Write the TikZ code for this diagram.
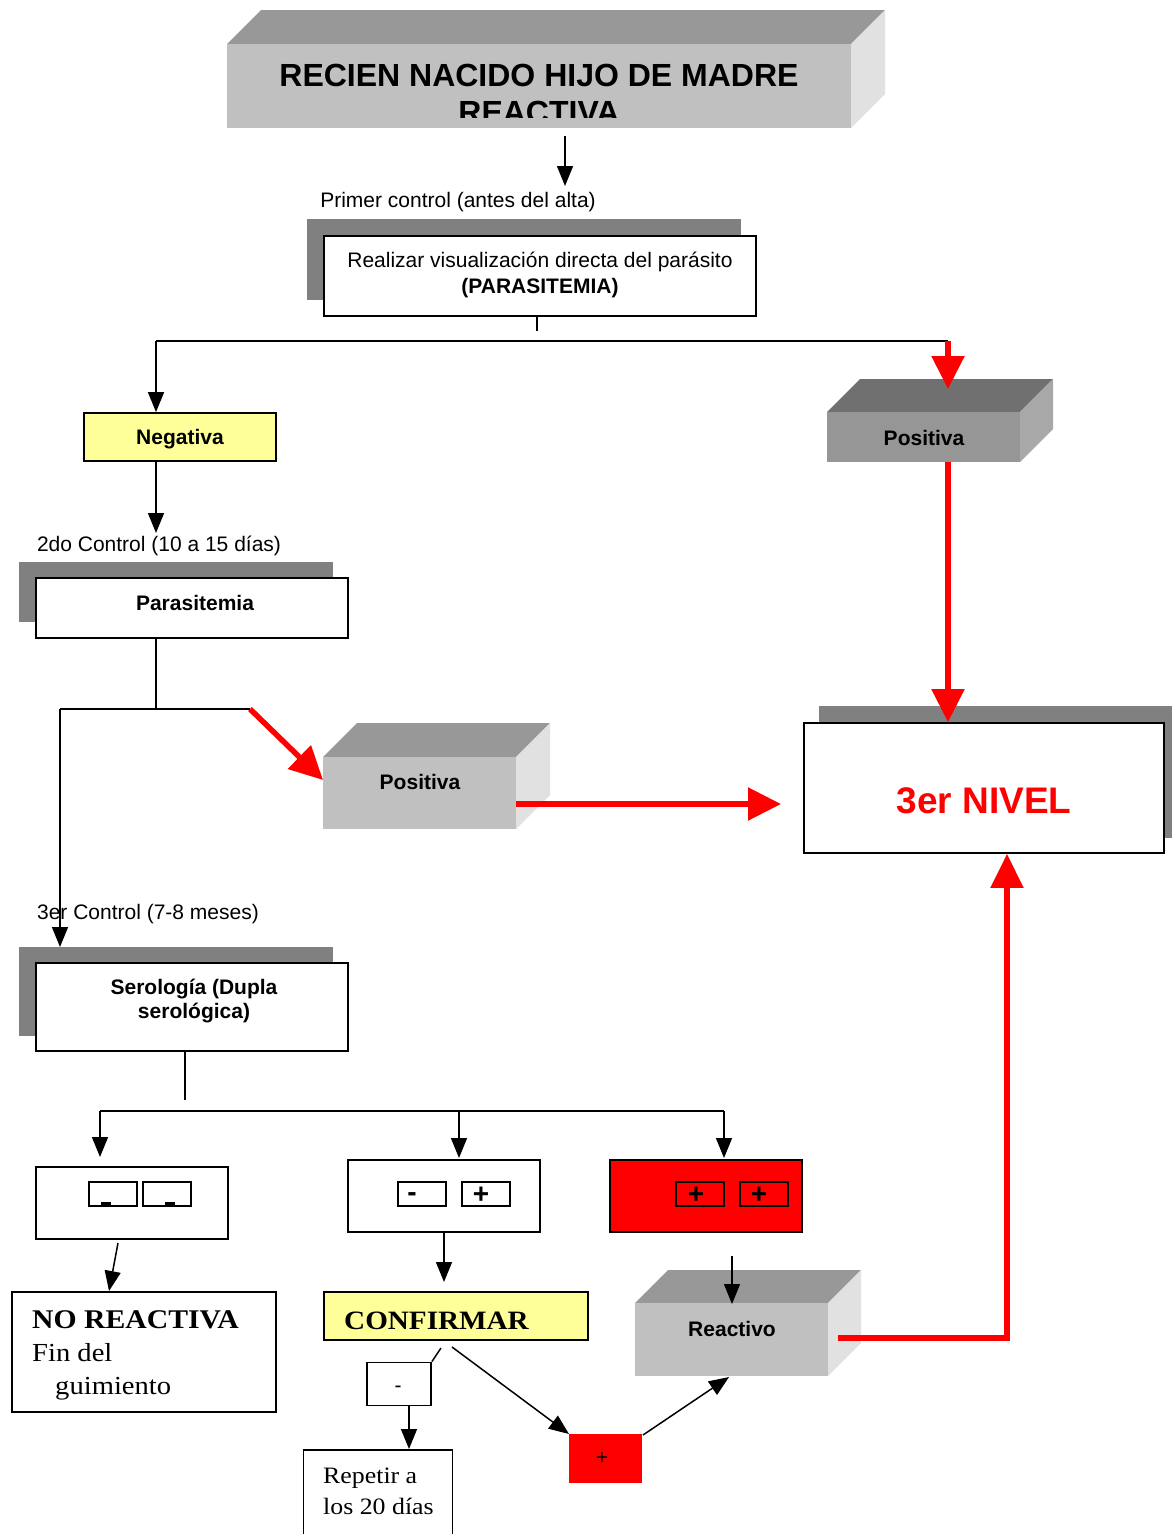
\documentclass[tikz,border=0pt]{standalone}
\usepackage{fontspec}
\setmainfont{Liberation Sans}
\newfontfamily\bookface{Liberation Serif}[FakeStretch=1.1]
\usetikzlibrary{arrows.meta}

\definecolor{shadowgray}{RGB}{128,128,128}
\definecolor{frontlight}{RGB}{192,192,192}
\definecolor{toplight}{RGB}{152,152,152}
\definecolor{sidelight}{RGB}{225,225,225}
\definecolor{frontdark}{RGB}{150,150,150}
\definecolor{topdark}{RGB}{112,112,112}
\definecolor{sidedark}{RGB}{168,168,168}
\definecolor{pale}{RGB}{255,255,153}
\definecolor{alert}{RGB}{255,0,0}

% solid block: left, top, right, bottom, depth, front, top face, side face
\newcommand{\prismbox}[8]{%
  \fill[#7] (#1,#2) -- (#3,#2) -- (#3+#5,#2-#5) -- (#1+#5,#2-#5) -- cycle;
  \fill[#8] (#3,#2) -- (#3+#5,#2-#5) -- (#3+#5,#4-#5) -- (#3,#4) -- cycle;
  \fill[#6] (#1,#2) rectangle (#3,#4);
}
\newcommand{\sanslbl}{\fontsize{21}{24.5}\selectfont}

\tikzset{
  frame/.style={draw=black, line width=1.8pt, inner sep=0pt, align=center},
  lbl/.style={inner sep=0pt, align=center, font=\sanslbl},
  boldlbl/.style={inner sep=0pt, align=center, font=\sanslbl\bfseries},
  wire/.style={line width=1.5pt},
  conn/.style={line width=1.5pt, -{Triangle[length=20pt,width=16pt]}},
  redconn/.style={draw=alert, line width=5.5pt, -{Triangle[length=33pt,width=32pt]}},
  redwire/.style={draw=alert, line width=5.5pt},
  chip/.style={draw=black, line width=1.6pt, minimum width=48pt, minimum height=24pt, inner sep=0pt},
  sign/.style={inner sep=0pt, font=\fontsize{28}{30}\selectfont\bfseries},
}

\begin{document}
\begin{tikzpicture}[x=1pt, y=-1pt]
\useasboundingbox (0,0) rectangle (1172,1534);

% ---------- title block ----------
\prismbox{227}{44}{851}{128}{34}{frontlight}{toplight}{sidelight}
\node[inner sep=0pt, anchor=base, font=\fontsize{32}{35}\selectfont\bfseries] (title1) at (539,86) {RECIEN NACIDO HIJO DE MADRE};
\begin{scope}
  \clip (227,44) rectangle (851,117);
  \node[inner sep=0pt, anchor=base, font=\fontsize{32}{35}\selectfont\bfseries] (title2) at (539,123) {REACTIVA};
\end{scope}
\coordinate (t0) at (565,136);
\coordinate (t1) at (565,186);
\draw[conn] (t0) -- (t1);

\node[lbl] (ctrl1) at (458,202) {Primer control (antes del alta)};

% ---------- direct visualisation ----------
\fill[shadowgray] (307,219) rectangle (741,300);
\node[frame, fill=white, minimum width=432pt, minimum height=80pt] (vis) at (540,276) {};
\node[lbl, font=\fontsize{21}{25.5}\selectfont] (vistxt) at (540,275) {Realizar visualización directa del parásito\\\textbf{(PARASITEMIA)}};

\coordinate (j0) at (537,331);
\coordinate (jL) at (156,341);
\coordinate (jR) at (948,341);
\draw[wire] (vis.south -| j0) -- (j0);
\draw[wire] (jL) -- (jR);

% ---------- negative branch ----------
\node[frame, fill=pale, minimum width=192pt, minimum height=48pt] (neg) at (180,437) {};
\node[boldlbl] (negtxt) at (180,439) {Negativa};
\draw[conn] (jL) -- (neg.north -| jL);

% ---------- positive branch (right) ----------
\prismbox{827}{412}{1020}{462}{33}{frontdark}{topdark}{sidedark}
\node[boldlbl] (posR) at (924,438) {Positiva};
\coordinate (posRtop) at (948,389);
\coordinate (posRbot) at (948,462);
\draw[redconn] (jR) -- (posRtop);

% ---------- second control ----------
\coordinate (c2) at (156,533);
\draw[conn] (neg.south -| jL) -- (c2);
\node[lbl] (ctrl2) at (159,546) {2do Control (10 a 15 días)};

\fill[shadowgray] (19,562) rectangle (333,622);
\node[frame, fill=white, minimum width=312pt, minimum height=60pt] (para) at (192,608) {};
\node[boldlbl] (paratxt) at (195,603) {Parasitemia};

\coordinate (j2) at (156,709);
\coordinate (j2L) at (60,709);
\coordinate (j2R) at (250,709);
\draw[wire] (para.south -| j2) -- (j2);
\draw[wire] (j2L) -- (j2R);

% ---------- middle positive ----------
\prismbox{323}{757}{516}{829}{34}{frontlight}{toplight}{sidelight}
\node[boldlbl] (posM) at (420,782) {Positiva};
\coordinate (posMin) at (323,780);
\coordinate (posMout) at (516,804);
\draw[redconn] (j2R) -- (posMin);

% ---------- third level ----------
\fill[shadowgray] (819,706) rectangle (1172,838);
\node[frame, fill=white, minimum width=360pt, minimum height=130pt] (nivel) at (984,788) {};
\node[inner sep=0pt, font=\fontsize{37}{40}\selectfont\bfseries, text=alert] (niveltxt) at (984,801) {3er NIVEL};
\coordinate (nivelW) at (781,804);
\draw[redconn] (posMout) -- (nivelW);
\draw[redconn] (posRbot) -- (nivel.north -| posRbot);

% ---------- third control ----------
\coordinate (c3) at (60,947);
\draw[conn] (j2L) -- (c3);
\node[lbl] (ctrl3) at (148,914) {3er Control (7-8 meses)};

\fill[shadowgray] (19,947) rectangle (333,1036);
\node[frame, fill=white, minimum width=312pt, minimum height=88pt] (sero) at (192,1007) {};
\node[boldlbl] (serotxt) at (194,1001) {Serología (Dupla\\serológica)};

\coordinate (j3) at (185,1100);
\coordinate (k1) at (100,1111);
\coordinate (k2) at (459,1111);
\coordinate (k3) at (724,1111);
\draw[wire] (sero.south -| j3) -- (j3);
\draw[wire] (k1) -- (k3);

% ---------- serology results ----------
\node[frame, fill=white, minimum width=192pt, minimum height=72pt] (mm) at (132,1203) {};
\node[chip] (mm1) at (113,1194) {};
\node[chip] (mm2) at (167,1194) {};
\fill (101,1202) rectangle (111,1207);
\fill (165,1202) rectangle (175,1207);

\node[frame, fill=white, minimum width=192pt, minimum height=72pt] (mp) at (444,1196) {};
\node[chip] (mp1) at (422,1194) {};
\node[chip] (mp2) at (486,1194) {};
\node[sign] (mpm) at (412,1197) {-};
\node[sign] (mpp) at (481,1195) {+};

\node[frame, fill=alert, minimum width=192pt, minimum height=72pt] (pp) at (706,1196) {};
\node[chip] (pp1) at (700,1194) {};
\node[chip] (pp2) at (764,1194) {};
\node[sign] (ppa) at (696,1195) {+};
\node[sign] (ppb) at (759,1195) {+};

\coordinate (k1t) at (100,1157);
\coordinate (k2t) at (459,1158);
\coordinate (k3t) at (724,1158);
\draw[conn] (k1) -- (k1t);
\draw[conn] (k2) -- (k2t);
\draw[conn] (k3) -- (k3t);

% ---------- non reactive ----------
\node[frame, fill=white, minimum width=264pt, minimum height=120pt] (noreac) at (144,1352) {};
\node[inner sep=0pt, anchor=base west, font=\bookface\fontsize{27}{29}\selectfont\bfseries] (noreac1) at (32,1328) {NO REACTIVA};
\node[inner sep=0pt, anchor=base west, font=\bookface\fontsize{26}{29}\selectfont] (noreac2) at (32,1361) {Fin del};
\node[inner sep=0pt, anchor=base west, font=\bookface\fontsize{26}{29}\selectfont] (noreac3) at (55,1394) {guimiento};
\coordinate (m0) at (118,1243);
\coordinate (m1) at (109,1291);
\draw[conn] (m0) -- (m1);

% ---------- confirm ----------
\coordinate (p0) at (444,1233);
\coordinate (p1) at (444,1282);
\draw[conn] (p0) -- (p1);
\node[frame, fill=pale, minimum width=264pt, minimum height=48pt] (conf) at (456,1316) {};
\node[inner sep=0pt, anchor=base west, font=\bookface\fontsize{26.5}{30}\selectfont\bfseries] (conftxt) at (344,1329) {CONFIRMAR};

\node[frame, fill=white, minimum width=64pt, minimum height=43pt] (neg2) at (399,1384) {};
\node[inner sep=0pt, font=\sanslbl] (neg2txt) at (398,1389) {-};
\coordinate (q0) at (441,1348);
\draw[wire] (neg2.north east) -- (q0);

\node[frame, fill=white, minimum width=149pt, minimum height=100pt] (rep) at (378,1500) {};
\node[inner sep=0pt, anchor=base west, align=left, font=\bookface\fontsize{23.5}{30.5}\selectfont] (reptxt) at (323,1514) {Repetir a\\los 20 días};
\coordinate (r0) at (409,1406);
\coordinate (r1) at (409,1449);
\draw[conn] (r0) -- (r1);

\node[fill=alert, minimum width=73pt, minimum height=49pt, inner sep=0pt] (plus2) at (605,1458) {};
\node[inner sep=0pt, font=\sanslbl] (plus2txt) at (602,1458) {+};
\coordinate (s0) at (452,1347);
\coordinate (s1) at (569,1434);
\draw[conn] (s0) -- (s1);

% ---------- reactive ----------
\prismbox{635}{1303}{828}{1376}{33}{frontlight}{toplight}{sidelight}
\node[boldlbl] (reac) at (732,1329) {Reactivo};
\coordinate (u0) at (732,1256);
\coordinate (u1) at (732,1304);
\draw[conn] (u0) -- (u1);
\coordinate (v0) at (643,1435);
\coordinate (v1) at (729,1377);
\draw[conn] (v0) -- (v1);

\coordinate (w0) at (838,1338);
\coordinate (w1) at (1007,1338);
\draw[redwire, -{Triangle[length=34pt,width=32pt]}, line join=miter] (w0) -- (w1) -- (nivel.south -| w1);

\end{tikzpicture}
\end{document}
